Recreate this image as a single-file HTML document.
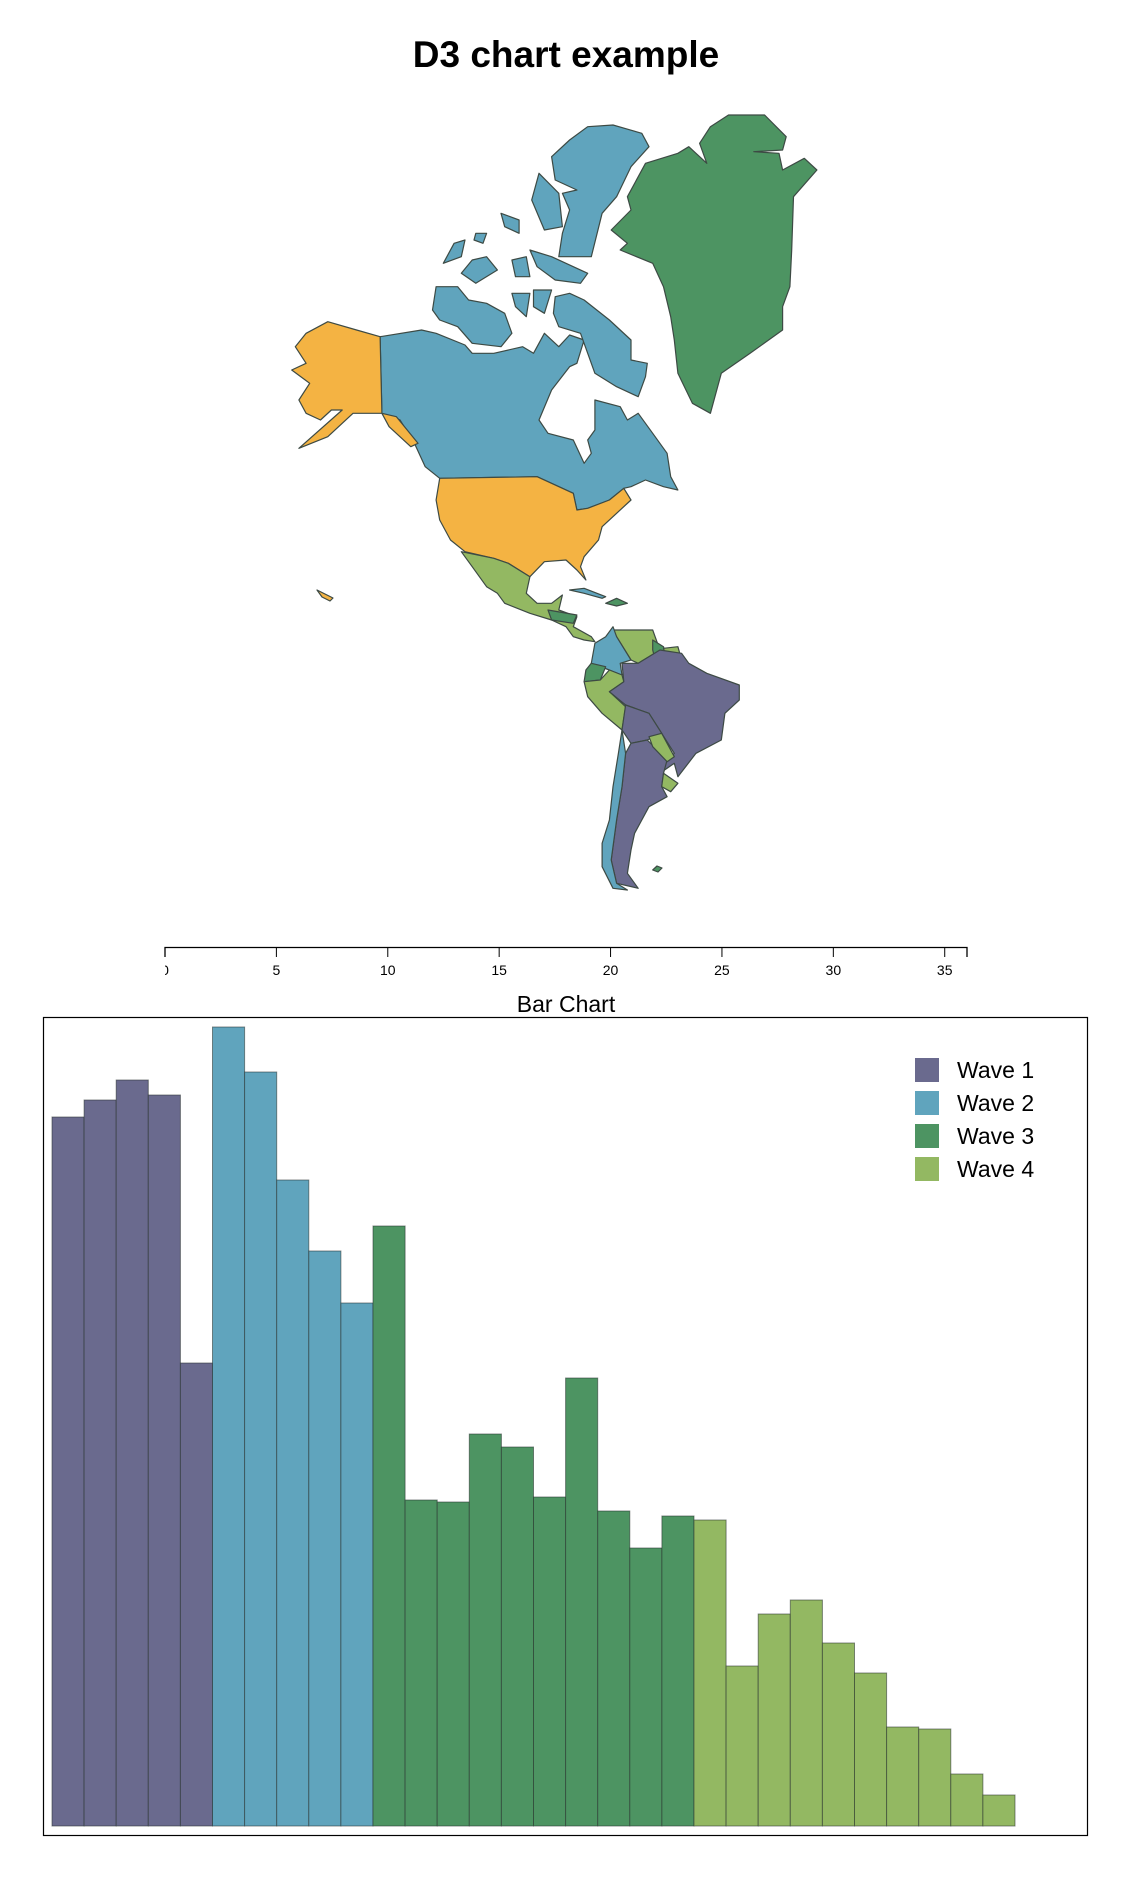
<!DOCTYPE html>
<html><head><meta charset="utf-8"><style>
body{margin:0;background:#fff;font-family:"Liberation Sans",sans-serif;}
#wrap{position:relative;width:1132px;height:1882px;overflow:hidden;}
</style></head><body>
<div id="wrap">
<svg width="1132" height="1882" style="position:absolute;left:0;top:0">
<text x="566" y="67" text-anchor="middle" font-size="37" font-weight="bold" font-family="Liberation Sans, sans-serif">D3 chart example</text>
<g id="map" stroke="#3d4a44" stroke-width="1.2" stroke-linejoin="round">
<polygon fill="#4d9462" points="728.5,115 764.6,115 786.2,136.7 782.6,150 753.8,151.7 779,153.3 782.6,170 804.3,158.3 816.9,170 793.5,196.7 791.7,250 789.9,286.7 782.6,306.7 782.6,330 750.1,353.3 721.3,373.3 710.4,413.3 692.4,403.3 677.9,373.3 674.3,340 670.7,316.7 663.5,286.7 652.7,263.3 620.2,250 627.4,243.3 611.2,230 631,210 627.4,196.7 645.5,163.3 677.9,153.3 688.8,146.7 706.8,163.3 699.6,143.3 710.4,126.7"/>
<g fill="#60a4bd">
<polygon points="380.1,336.7 421.6,330 436.1,333.3 465,345 472.2,353.3 493.8,353.3 522.7,346.7 533.5,353.3 544.4,333.3 558.8,346.7 569.6,335 584.1,340 576.9,363.3 569.6,366.7 551.6,390 539,420 548,433.3 573.3,440 584.1,463.3 591.3,453.3 587.7,440 594.9,430 594.9,400 620.2,406.7 627.4,420 638.2,413.3 652.7,433.3 667.1,453.3 670.7,476.7 677.9,490 663.5,486.7 645.5,480 631,486.7 623.8,488.3 609.4,500 587.7,508.3 576.9,510 573.3,493.3 537.1,476.7 439.7,478.3 425.2,466.7 414.4,443.3 400,420 381.9,413.3"/>
<polygon points="569.6,140 587.7,126.7 613,125 641.8,133.3 649,146.7 631,166.7 616.6,196.7 602.1,213.3 591.3,256.7 558.8,256.7 562.4,233.3 569.6,210 562.4,193.3 576.9,190 555.2,180 551.6,156.7"/>
<polygon points="539,173.3 558.8,193.3 562.4,226.7 544.4,230 531.7,200"/>
<polygon points="555.2,296.7 569.6,293.3 584.1,300 609.4,320 631,340 631,360 647.3,363.3 645.5,376.7 638.2,396.7 616.6,386.7 594.9,373.3 587.7,353.3 580.5,333.3 558.8,326.7 553.4,313.3"/>
<polygon points="436.1,286.7 457.7,286.7 468.6,300 486.6,303.3 504.7,313.3 511.9,333.3 501,346.7 472.2,343.3 457.7,326.7 439.7,320 432.5,310"/>
<polygon points="443.3,263.3 454.1,243.3 465,240 461.3,256.7"/>
<polygon points="461.3,273.3 472.2,260 486.6,256.7 497.4,270 475.8,283.3"/>
<polygon points="511.9,260 526.3,256.7 529.9,276.7 515.5,276.7"/>
<polygon points="529.9,250 551.6,256.7 573.3,266.7 587.7,273.3 580.5,283.3 555.2,280 537.1,266.7"/>
<polygon points="501,213.3 519.1,220 519.1,233.3 504.7,226.7"/>
<polygon points="511.9,293.3 529.9,293.3 526.3,316.7 515.5,306.7"/>
<polygon points="533.5,290 551.6,290 544.4,313.3 533.5,306.7"/>
<polygon points="475.8,233.3 486.6,233.3 483,243.3 474,240"/>
</g>
<g fill="#f4b343">
<polygon points="380.1,336.7 356.6,330 327.8,321.7 306.1,333.3 295.3,346.7 306.1,363.3 291.7,370 309.7,383.3 298.9,400 306.1,413.3 320.5,420 331.4,410 342.2,410 298.9,448.3 327.8,436.7 353,413.3 381.9,413.3 396.4,416.7 418,443.3 410.8,446.7 389.1,426.7 381.9,413.3"/>
<polygon points="439.7,478.3 537.1,476.7 573.3,493.3 576.9,510 587.7,508.3 609.4,500 623.8,488.3 631,500 616.6,513.3 602.1,526.7 598.5,540 584.1,556.7 580.5,566.7 585.9,580 576.9,570 566,560 544.4,561.7 529.9,576.7 508.3,563.3 493.8,558.3 465,551.7 450.5,540 439.7,520 436.1,500"/>
<polygon points="317,590 325,594 333,598 330,601 322,597"/>
</g>
<polygon fill="#93b862" points="461.3,551.7 493.8,558.3 508.3,563.3 529.9,576.7 526.3,593.3 537.1,603.3 551.6,603.3 562.4,595 558.8,610 576.9,616.7 573.3,626.7 591.3,636.7 594.9,641.7 584.1,640 573.3,636.7 566,626.7 551.6,620 529.9,613.3 504.7,603.3 497.4,593.3 486.6,586.7 472.2,566.7"/>
<polygon fill="#4d9462" points="548,610 576.9,615 573.3,623.3 551.6,620"/>
<polygon fill="#60a4bd" points="569.6,590 584.1,588.3 605.7,596.7 602.1,598.3 584.1,593.3"/>
<polygon fill="#4d9462" points="605.7,603.3 616.6,598.3 627.4,603.3 616.6,606"/>
<polygon fill="#93b862" points="613,630 652.7,630 659.9,650 638.2,663.3 631,660 616.6,636.7"/>
<polygon fill="#60a4bd" points="613,626.7 616.6,636.7 631,660 620.2,663.3 622,675 609.4,670 591.3,663.3 594.9,643.3 605.7,636.7"/>
<polygon fill="#4d9462" points="652.7,640 663.5,646.7 667.1,660 656.1,663.3 652.7,650"/>
<polygon fill="#93b862" points="663.5,648.3 677.9,646.7 681.6,660 667.1,660"/>
<polygon fill="#4d9462" points="591.3,663.3 605.7,666.7 600.3,680 584.1,681.7 585.9,670"/>
<polygon fill="#93b862" points="584.1,681.7 600.3,680 609.4,670 622,675 623.8,681.7 609.4,691.7 625.6,706.7 622,730 602.1,713.3 587.7,696.7"/>
<polygon fill="#6a6a8e" points="622,663.3 638.2,663.3 659.9,650 681.6,653.3 688.8,663.3 706.8,673.3 739.3,685 739.3,700 724.9,713.3 721.3,740 696,753.3 677.9,776.7 674.3,763.3 659.9,773.3 667.1,760 674.3,753.3 661.7,733.3 649,713.3 625.6,705 609.4,691.7 623.8,681.7"/>
<polygon fill="#6a6a8e" points="625.6,705 649,713.3 661.7,733.3 647.3,740 631,743.3 622,730"/>
<polygon fill="#6a6a8e" points="631,743.3 647.3,740 667.1,760 663.5,773.3 661.7,786.7 667.1,796.7 649,806.7 641.8,820 634.6,833.3 631,850 627.4,873.3 638.2,888.3 616.6,883.3 611.2,860 616.6,820 622,786.7 625.6,753.3"/>
<polygon fill="#93b862" points="649,736.7 661.7,733.3 674.3,756.7 667.1,761.7 652.7,746.7"/>
<polygon fill="#93b862" points="663.5,773.3 677.9,783.3 670.7,791.7 661.7,786.7"/>
<polygon fill="#60a4bd" points="622,730 625.6,753.3 622,786.7 616.6,820 611.2,860 616.6,883.3 627.4,890 613,888.3 602.1,866.7 602.1,843.3 609.4,820 613,786.7 618.4,753.3"/>
<polygon fill="#4d9462" points="652.7,870 657,866 662,868 658,872"/>
</g>
<g id="axis"></g>
<text x="566" y="1012" text-anchor="middle" font-size="23" font-family="Liberation Sans, sans-serif">Bar Chart</text>
<rect x="43.5" y="1017.5" width="1044" height="818" fill="none" stroke="#000" stroke-width="1.2"/>
<g id="bars"></g>
<g id="legend"></g>
</svg>
</div>
<script>
const waveNames = ["Wave 1","Wave 2","Wave 3","Wave 4"];
const waveColors = ["#6a6a8e","#60a4bd","#4d9462","#93b862"];
const barWaves = [0,0,0,0,0,1,1,1,1,1,2,2,2,2,2,2,2,2,2,2,3,3,3,3,3,3,3,3,3,3];
const barValues = [709,726,746,731,463,799,754,646,575,523,600,326,324,392,379,329,448,315,278,310,306,160,212,226,183,153,99,97,52,31];
const axisTicks = [0,5,10,15,20,25,30,35];
const axisDomain = [0,36];
const NS = "http://www.w3.org/2000/svg";
function mk(t, a){const e=document.createElementNS(NS,t);for(const k in a)e.setAttribute(k,a[k]);return e;}
const ax = document.getElementById('axis');
const axX = v => 165 + (v-axisDomain[0])/(axisDomain[1]-axisDomain[0])*802;
const axPath = mk('path',{d:`M${axX(0)},957V947.5H${axX(36)}V957`,fill:'none',stroke:'#000','stroke-width':1.3});


ax.appendChild(axPath);
const clip = mk('clipPath',{id:'axclip'});
clip.appendChild(mk('rect',{x:165,y:940,width:820,height:50}));
ax.appendChild(clip);
axisTicks.forEach(v=>{
  const l = mk('line',{x1:axX(v),x2:axX(v),y1:947,y2:957,stroke:'#000','stroke-width':1});
  
  
  ax.appendChild(l);
  const t = mk('text',{x:axX(v),y:975,'text-anchor':'middle','font-size':14,'font-family':'Liberation Sans, sans-serif','clip-path':'url(#axclip)'});
  t.textContent = v;
  
  
  ax.appendChild(t);
});
const g = document.getElementById('bars');
const x0 = 52, band = 32.1, yBase = 1826, yMax = 800, plotH = 800;
const xs = i => x0 + i*band;
const ys = v => yBase - v/yMax*plotH;
barValues.forEach((v,i)=>{
  const r = mk('rect',{x:xs(i),y:ys(v),width:band,height:yBase-ys(v),fill:waveColors[barWaves[i]],stroke:'rgba(40,50,45,0.55)','stroke-width':1});
  
  
  g.appendChild(r);
});
const lg = document.getElementById('legend');
waveNames.forEach((n,i)=>{
  const r = mk('rect',{x:915,y:1058+i*33,width:24,height:24,fill:waveColors[i]});
  
  
  lg.appendChild(r);
  const t = mk('text',{x:957,y:1078+i*33,'font-size':23,'font-family':'Liberation Sans, sans-serif'});
  t.textContent = n;
  
  
  lg.appendChild(t);
});
</script>
</body></html>
